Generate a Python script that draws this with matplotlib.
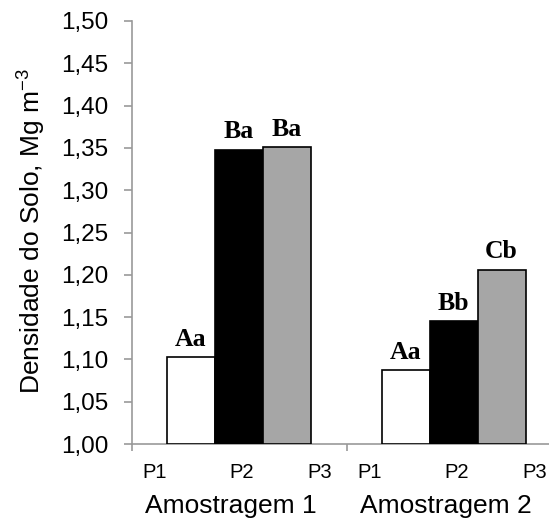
import numpy as np
import matplotlib
matplotlib.use("Agg")
import matplotlib.pyplot as plt
import matplotlib.transforms as mtransforms

# data
groups = ["Amostragem 1", "Amostragem 2"]
positions = ["P1", "P2", "P3"]
p1_vals = [1.103, 1.087]
p2_vals = [1.348, 1.145]
p3_vals = [1.351, 1.206]
p1_letters = ["Aa", "Aa"]
p2_letters = ["Ba", "Bb"]
p3_letters = ["Ba", "Cb"]
yticks = [1.00, 1.05, 1.10, 1.15, 1.20, 1.25, 1.30, 1.35, 1.40, 1.45, 1.50]

plt.rcParams['font.family'] = ['Liberation Sans', 'DejaVu Sans']
plt.rcParams['mathtext.fontset'] = 'custom'
plt.rcParams['mathtext.rm'] = 'Liberation Sans'
plt.rcParams['mathtext.it'] = 'Liberation Sans'

fig = plt.figure(figsize=(5.49, 5.20), dpi=100)
ax = fig.add_axes([132 / 549, 76 / 520, 430 / 549, 423 / 520])

series = [p1_vals, p2_vals, p3_vals]
letters = [p1_letters, p2_letters, p3_letters]
colors = ["white", "black", "#a6a6a6"]
offsets = [0.273, 0.496, 0.719]
width = 0.223

x = np.arange(len(groups))
for vals, labs, col, off in zip(series, letters, colors, offsets):
    bars = ax.bar(x + off, np.array(vals) - 1.0, bottom=1.0, width=width,
                  color=col, edgecolor="black", linewidth=1.2, zorder=3)
    for b, v, lab in zip(bars, vals, labs):
        ax.annotate(lab, (b.get_x() + b.get_width() / 2, v), xytext=(0, 4.5),
                    textcoords="offset points", ha="center", va="bottom",
                    fontsize=18.5, fontweight="bold", family="Liberation Serif")

ax.set_xlim(0, 2)
ax.set_ylim(1.0, 1.5)
ax.set_yticks(yticks)
ax.set_yticklabels([f"{v:.2f}".replace(".", ",") for v in yticks], fontsize=17.5)
ax.set_xticks([0, 1, 2])
ax.set_xticklabels([])

for s in ["top", "right"]:
    ax.spines[s].set_visible(False)
for s in ["left", "bottom"]:
    ax.spines[s].set_color("#999999")
    ax.spines[s].set_linewidth(1.2)
ax.tick_params(axis="y", direction="out", length=6, width=1.2, color="#999999", pad=11)
ax.tick_params(axis="x", direction="out", length=5, width=1.2, color="#999999")

trans = mtransforms.blended_transform_factory(ax.transData, fig.transFigure)
p_offsets = [0.107, 0.51, 0.873]
for g in range(len(groups)):
    for p, po in zip(positions, p_offsets):
        ax.text(g + po, 1 - 472 / 520, p, transform=trans, ha="center",
                va="center", fontsize=14.5)
    ax.text(g + 0.46, 1 - 506 / 520, groups[g], transform=trans, ha="center",
            va="center", fontsize=19)

fig.text(32 / 549, 1 - 231 / 520, "Densidade do Solo, Mg m$^{-3}$",
         rotation=90, ha="center", va="center", fontsize=19)

fig.savefig("out.png", dpi=100)
